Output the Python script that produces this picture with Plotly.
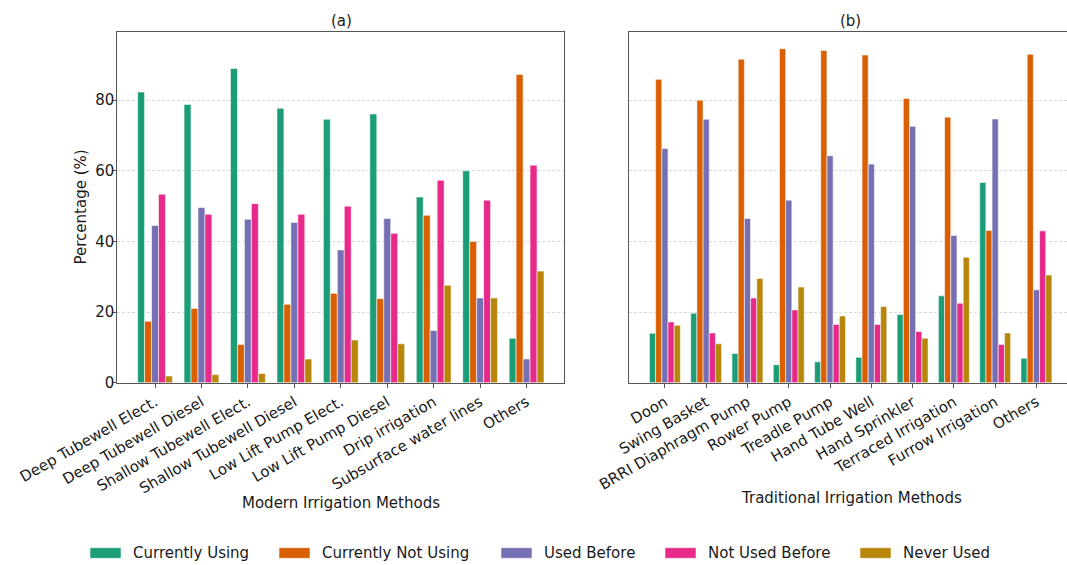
import plotly.graph_objects as go

# ---- data -------------------------------------------------------------
series_names = ["Currently Using", "Currently Not Using", "Used Before",
                "Not Used Before", "Never Used"]
series_colors = ["#1b9e77", "#d95f02", "#7570b3", "#e7298a", "#b8860b"]

modern_methods = ["Deep Tubewell Elect.", "Deep Tubewell Diesel", "Shallow Tubewell Elect.",
                  "Shallow Tubewell Diesel", "Low Lift Pump Elect.", "Low Lift Pump Diesel",
                  "Drip irrigation", "Subsurface water lines", "Others"]
modern_currently_using = [82.3, 78.8, 89.0, 77.7, 74.6, 76.1, 52.6, 60.0, 12.6]
modern_currently_not_using = [17.4, 21.0, 10.8, 22.2, 25.3, 23.8, 47.4, 40.0, 87.3]
modern_used_before = [44.5, 49.6, 46.3, 45.4, 37.6, 46.5, 14.8, 24.0, 6.7]
modern_not_used_before = [53.4, 47.7, 50.7, 47.7, 50.0, 42.3, 57.3, 51.7, 61.6]
modern_never_used = [1.9, 2.3, 2.6, 6.7, 12.1, 11.0, 27.6, 24.0, 31.6]

traditional_methods = ["Doon", "Swing Basket", "BRRI Diaphragm Pump", "Rower Pump",
                       "Treadle Pump", "Hand Tube Well", "Hand Sprinkler",
                       "Terraced Irrigation", "Furrow Irrigation", "Others"]
trad_currently_using = [14.0, 19.7, 8.3, 5.1, 5.9, 7.2, 19.3, 24.6, 56.7, 6.9]
trad_currently_not_using = [85.9, 80.0, 91.6, 94.6, 94.1, 92.8, 80.5, 75.2, 43.1, 93.0]
trad_used_before = [66.3, 74.6, 46.5, 51.7, 64.3, 61.9, 72.6, 41.7, 74.7, 26.3]
trad_not_used_before = [17.2, 14.1, 24.0, 20.6, 16.5, 16.5, 14.5, 22.5, 10.8, 43.0]
trad_never_used = [16.3, 11.0, 29.5, 27.1, 18.9, 21.6, 12.6, 35.5, 14.1, 30.5]

modern_series = [modern_currently_using, modern_currently_not_using, modern_used_before,
                 modern_not_used_before, modern_never_used]
trad_series = [trad_currently_using, trad_currently_not_using, trad_used_before,
               trad_not_used_before, trad_never_used]

# ---- figure -----------------------------------------------------------
W, H = 1067, 565
FONT = "DejaVu Sans"
TEXT = "#1a1a1a"
SPINE = "#555555"
FS = 15


def px(x):
    return x / W


def py(y):
    return 1 - y / H


fig = go.Figure()
for name, color, vals in zip(series_names, series_colors, modern_series):
    fig.add_trace(go.Bar(x=modern_methods, y=vals, name=name, marker_color=color,
                         marker_line=dict(color="rgba(255,255,255,0.8)", width=0.7),
                         xaxis="x", yaxis="y", showlegend=False))
for name, color, vals in zip(series_names, series_colors, trad_series):
    fig.add_trace(go.Bar(x=traditional_methods, y=vals, name=name, marker_color=color,
                         marker_line=dict(color="rgba(255,255,255,0.8)", width=0.7),
                         xaxis="x2", yaxis="y2", showlegend=False))

y_dom = [py(382.7), py(31.7)]
common_x = dict(type="category", showline=True, linecolor=SPINE, linewidth=1,
                mirror=True, ticks="outside", ticklen=4, tickcolor=SPINE,
                tickangle=-30, showgrid=False, zeroline=False, automargin=False,
                tickfont=dict(family=FONT, size=FS, color=TEXT))
grid = dict(showgrid=True, gridcolor="#d9d9d9", griddash="3px,2px", gridwidth=0.8)

fig.update_layout(
    width=W, height=H,
    margin=dict(l=0, r=0, t=0, b=0),
    paper_bgcolor="white", plot_bgcolor="white",
    barmode="group", bargap=0.25, bargroupgap=0,
    showlegend=False,
    font=dict(family=FONT, color=TEXT),
    xaxis=dict(domain=[px(117.3), px(564.3)], anchor="y",
               range=[-0.8125, 8.8125], **common_x),
    yaxis=dict(domain=y_dom, anchor="x", range=[0, 99.4],
               tickvals=[0, 20, 40, 60, 80], ticks="outside", ticklen=4,
               tickcolor=SPINE, showline=True, linecolor=SPINE, linewidth=1,
               mirror=True, zeroline=False, automargin=False,
               ticklabelstandoff=-5,
               tickfont=dict(family=FONT, size=FS, color=TEXT), **grid),
    xaxis2=dict(domain=[px(629.3), 1.0], anchor="y2",
                range=[-0.8625, 9.74], **common_x),
    yaxis2=dict(domain=y_dom, anchor="x2", range=[0, 99.4],
                tickvals=[0, 20, 40, 60, 80], showticklabels=False, ticks="",
                showline=True, linecolor=SPINE, linewidth=1, mirror=False,
                zeroline=False, automargin=False, **grid),
)

# panel titles and axis titles
annotations = [
    dict(text="(a)", x=px(341.5), y=py(21)),
    dict(text="(b)", x=px(850.7), y=py(21)),
    dict(text="Modern Irrigation Methods", x=px(341), y=py(503)),
    dict(text="Traditional Irrigation Methods", x=px(851.7), y=py(498)),
    dict(text="Percentage (%)", x=px(80), y=py(207.5), textangle=-90),
]
for a in annotations:
    fig.add_annotation(xref="paper", yref="paper", showarrow=False,
                       xanchor="center", yanchor="middle",
                       font=dict(family=FONT, size=FS, color=TEXT), **a)

# legend row along the bottom
legend_patch_left = [90, 279, 501, 665, 860]
for name, color, x0 in zip(series_names, series_colors, legend_patch_left):
    fig.add_shape(type="rect", xref="paper", yref="paper",
                  x0=px(x0), x1=px(x0 + 31), y0=py(558.3), y1=py(547.7),
                  fillcolor=color, line=dict(color="rgba(255,255,255,0.8)", width=0.7))
    fig.add_annotation(xref="paper", yref="paper", showarrow=False,
                       x=px(x0 + 41), y=py(553), xanchor="left", yanchor="middle",
                       text=name, font=dict(family=FONT, size=FS, color=TEXT))

fig.write_html("out.html")
